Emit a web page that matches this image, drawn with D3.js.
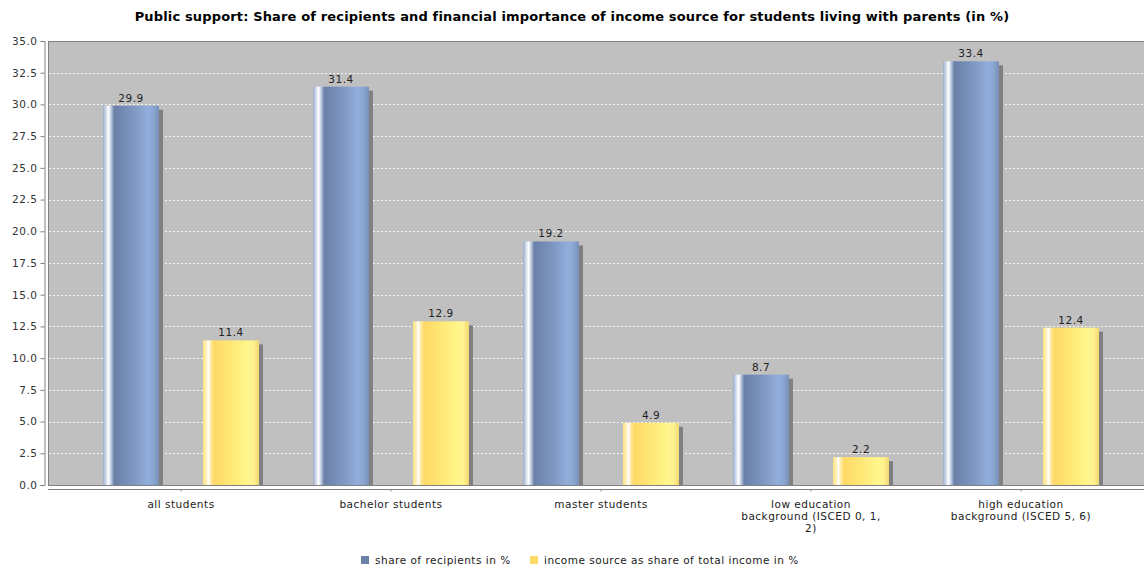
<!DOCTYPE html>
<html><head><meta charset="utf-8">
<script src="https://cdn.jsdelivr.net/npm/d3@7"></script>
<style>body{margin:0;background:#fff;}svg{display:block;font-family:"DejaVu Sans",sans-serif;}</style>
</head><body><svg id="c" width="1144" height="567"></svg>
<script>
const title = "Public support: Share of recipients and financial importance of income source for students living with parents (in %)";
const categories = ["all students","bachelor students","master students","low education background (ISCED 0, 1, 2)","high education background (ISCED 5, 6)"];
const categoryLines = [["all students"],["bachelor students"],["master students"],["low education","background (ISCED 0, 1,","2)"],["high education","background (ISCED 5, 6)"]];
const seriesNames = ["share of recipients in %","income source as share of total income in %"];
const recipients = [29.9,31.4,19.2,8.7,33.4];
const incomeShare = [11.4,12.9,4.9,2.2,12.4];
const yTicks = [0,2.5,5,7.5,10,12.5,15,17.5,20,22.5,25,27.5,30,32.5,35];

const svg = d3.select("#c");
const plot = {l:48, r:1144, t:41, b:485};
const y = d3.scaleLinear().domain([0,35]).range([plot.b, plot.t]);
const x = d3.scaleBand().domain(categories).range([76,1126]).paddingInner(0).paddingOuter(0);
const xs = d3.scaleBand().domain(seriesNames).range([27,183]).paddingInner(0.44).paddingOuter(0);
const FS = 10.5, LS = 0.5;

const defs = svg.append("defs");
function grad(id, stops){
  const g = defs.append("linearGradient").attr("id",id).attr("x1","0").attr("x2","1").attr("y1","0").attr("y2","0");
  stops.forEach(s=>g.append("stop").attr("offset",s[0]).attr("stop-color",s[1]));
}
grad("gb",[[0,"#9aaccb"],[0.06,"#d8e0ee"],[0.1,"#ffffff"],[0.14,"#c4d0e4"],[0.2,"#6a80a8"],[0.55,"#7f98c2"],[0.8,"#92aedc"],[0.9,"#8aa6d2"],[1,"#7890b8"]]);
grad("gy",[[0,"#ffe47a"],[0.06,"#fff0c0"],[0.1,"#ffffff"],[0.14,"#ffeaa0"],[0.2,"#ffd966"],[0.55,"#ffea78"],[0.8,"#fff68c"],[0.9,"#fff290"],[1,"#f0d870"]]);
defs.append("clipPath").attr("id","pc").append("rect").attr("x",plot.l).attr("y",plot.t).attr("width",plot.r-plot.l).attr("height",plot.b-plot.t);

// title
svg.append("text").attr("x",572).attr("y",21).attr("text-anchor","middle").attr("font-size",13).attr("letter-spacing",0.15).attr("font-weight","bold").attr("fill","#000").text(title);

// plot background
svg.append("rect").attr("x",plot.l+0.5).attr("y",plot.t+0.5).attr("width",plot.r-plot.l).attr("height",plot.b-plot.t).attr("fill","#c0c0c0").attr("stroke","#808080").attr("stroke-width",1);

// gridlines
svg.append("g").selectAll("line").data(yTicks.filter(d=>d>0&&d<35)).join("line")
  .attr("x1",plot.l+1).attr("x2",plot.r).attr("y1",d=>Math.round(y(d))+0.5).attr("y2",d=>Math.round(y(d))+0.5)
  .attr("stroke","#ffffff").attr("stroke-opacity",0.8).attr("stroke-dasharray","2,2").attr("stroke-width",1);

const data = [];
categories.forEach((c,i)=>{
  data.push({c, s:seriesNames[0], v:recipients[i], g:"url(#gb)"});
  data.push({c, s:seriesNames[1], v:incomeShare[i], g:"url(#gy)"});
});
const bars = svg.append("g").attr("clip-path","url(#pc)");
bars.selectAll("rect.sh").data(data).join("rect").attr("class","sh")
  .attr("x",d=>x(d.c)+xs(d.s)+4).attr("y",d=>y(d.v)+4).attr("width",xs.bandwidth()).attr("height",d=>plot.b-y(d.v))
  .attr("fill","#808080");
bars.selectAll("rect.b").data(data).join("rect").attr("class","b")
  .attr("x",d=>x(d.c)+xs(d.s)).attr("y",d=>y(d.v)).attr("width",xs.bandwidth()).attr("height",d=>plot.b-y(d.v))
  .attr("fill",d=>d.g);
svg.append("g").selectAll("text").data(data).join("text")
  .attr("x",d=>x(d.c)+xs(d.s)+xs.bandwidth()/2).attr("y",d=>y(d.v)-4).attr("text-anchor","middle")
  .attr("font-size",FS).attr("letter-spacing",LS).attr("fill","#222").text(d=>d.v.toFixed(1));

// y axis
const ya = d3.axisLeft(y).tickValues(yTicks).tickFormat(d3.format(".1f")).tickSize(4).tickPadding(3);
const yg = svg.append("g").attr("transform","translate(44.5,0)").call(ya);
yg.select(".domain").attr("stroke","#808080");
yg.selectAll(".tick line").attr("stroke","#808080");
yg.selectAll("text").attr("font-size",FS).attr("letter-spacing",LS).attr("fill","#333").attr("font-family","DejaVu Sans, sans-serif");

// x axis
const xa = d3.axisBottom(x).tickSize(2).tickFormat("");
const xg = svg.append("g").attr("transform","translate(0,489.5)").call(xa);
xg.select(".domain").attr("d",`M${plot.l},0H${plot.r}`).attr("stroke","#808080");
xg.selectAll(".tick line").attr("stroke","#808080");
const cl = svg.append("g");
categories.forEach((c,i)=>{
  const t = cl.append("text").attr("text-anchor","middle").attr("font-size",FS).attr("letter-spacing",LS).attr("fill","#222");
  categoryLines[i].forEach((ln,j)=>t.append("tspan").attr("x",x(c)+x.bandwidth()/2).attr("y",508+j*12).text(ln));
});

// legend
const lg = svg.append("g");
const items = [{n:seriesNames[0], c:"#6a80a6", x:361},{n:seriesNames[1], c:"#ffd966", x:530}];
items.forEach(it=>{
  lg.append("rect").attr("x",it.x).attr("y",556).attr("width",8).attr("height",8).attr("fill",it.c);
  lg.append("text").attr("x",it.x+14).attr("y",564).attr("font-size",FS).attr("letter-spacing",LS).attr("fill","#222").text(it.n);
});
</script></body></html>
